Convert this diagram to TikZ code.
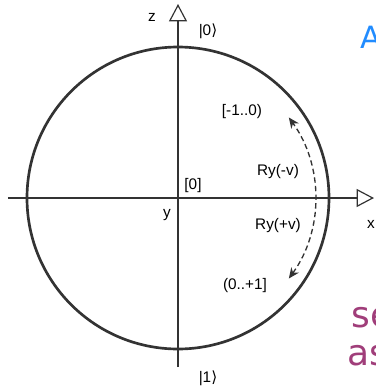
\documentclass[tikz,border=0pt]{standalone}
\usepackage{fontspec}
\setmainfont{Liberation Sans}
\newfontfamily\ketfont{DejaVu Sans}
\newfontfamily\pagefont{DejaVu Sans}
\usepackage{xcolor}
\usetikzlibrary{
  arrows.meta,
  positioning
}
\definecolor{AxisGray}{RGB}{51, 51, 51}
\definecolor{PageBlue}{RGB}{33, 140, 255}
\definecolor{PagePlum}{RGB}{160, 62, 122}
\tikzset{
    axisline/.style={draw=AxisGray, line width=2pt, -{Triangle[open, length=13pt, width=13.5pt, line width=0.9pt]}},
    axislabel/.style={font=\fontsize{11.5}{14}\selectfont, text=black, inner sep=1pt},
    ketlabel/.style={font=\fontsize{11.5}{14}\selectfont, text=black, inner sep=1pt},
    rotarrow/.style={draw=AxisGray, line width=1pt, dash pattern=on 4pt off 2.5pt, {Stealth[length=8pt, width=7pt]}-{Stealth[length=8pt, width=7pt]}}
}

\begin{document}
\begin{tikzpicture}[x=0.75pt, y=-0.75pt]
    \useasboundingbox (0,0) rectangle (376,387);
    \clip (0,0) rectangle (376,387);
    % sphere cut and axes
    \coordinate (centre) at (178,198);
    \draw[AxisGray, line width=2pt] (centre) circle[radius=151];
    \coordinate (xstart) at (8,198);
    \coordinate (xtip) at (374,198);
    \coordinate (zstart) at (178,367);
    \coordinate (ztip) at (178,4);
    \draw[axisline] (xstart) -- (xtip);
    \draw[axisline] (zstart) -- (ztip);
    % axis names and states
    \node[axislabel] (zname) at (152,17) {z};
    \node[axislabel] (xname) at (371,224) {x};
    \node[axislabel] (yname) at (167,215) {y};
    \node[axislabel] (origin) at (193,186) {[0]};
    \node[ketlabel] (ketzero) at (208,31) {|0{\ketfont ⟩}};
    \node[ketlabel] (ketone) at (208,378) {|1{\ketfont ⟩}};
    % rotation ranges
    \node[axislabel] (negrange) at (242,112) {[-1..0)};
    \node[axislabel] (posrange) at (245,286) {(0..+1]};
    \node[axislabel] (rneg) at (278,172) {Ry(-v)};
    \node[axislabel] (rpos) at (278,226) {Ry(+v)};
    \draw[rotarrow] (centre) ++(36:137) arc[start angle=36, end angle=-36, radius=137];
    % text of the page around the picture
    \node[anchor=west, inner sep=0pt, text=PageBlue, font=\pagefont\fontsize{23}{28}\selectfont] (pagea) at (360,37) {A};
    \node[anchor=west, inner sep=0pt, text=PagePlum, font=\pagefont\fontsize{27}{32}\selectfont] (pagese) at (351,318) {se};
    \node[anchor=west, inner sep=0pt, text=PagePlum, font=\pagefont\fontsize{27}{32}\selectfont] (pageas) at (347,356) {as};
\end{tikzpicture}
\end{document}
